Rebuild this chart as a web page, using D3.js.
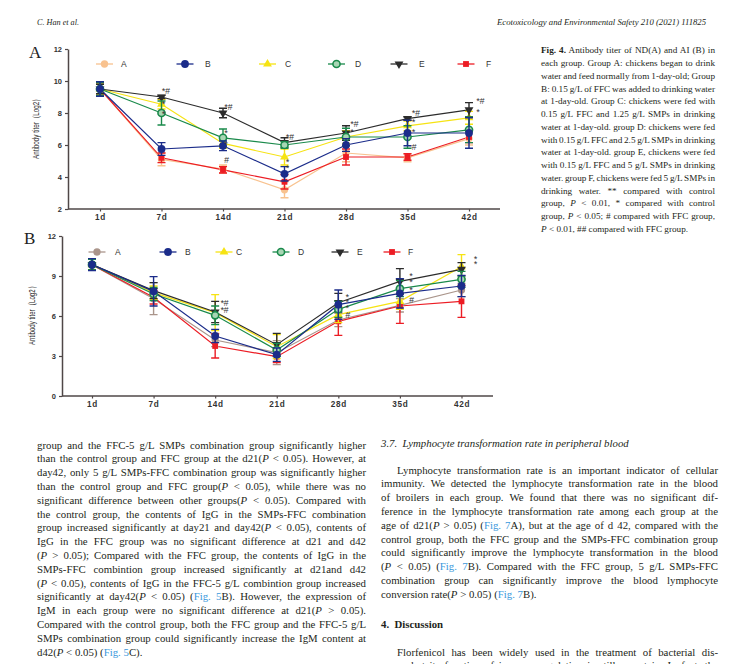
<!DOCTYPE html>
<html><head><meta charset="utf-8">
<script src="https://cdn.jsdelivr.net/npm/d3@7/dist/d3.min.js"></script>
<style>body{margin:0;background:#fff;}svg{display:block;}</style>
</head><body>
<script>
// ---------- DATA ----------
const days = ["1d","7d","14d","21d","28d","35d","42d"];
const groups = ["A","B","C","D","E","F"];

// Panel A: ND antibody titer (Log2)
const ndA = [9.5, 5.1, 4.5, 3.2, 5.5, 5.2, 6.4];
const ndB = [9.5, 5.75, 5.95, 4.2, 6.0, 6.75, 6.75];
const ndC = [9.5, 8.55, 6.1, 5.25, 6.5, 7.2, 7.7];
const ndD = [9.5, 8.0, 6.45, 6.0, 6.5, 6.5, 6.95];
const ndE = [9.5, 9.0, 8.0, 6.15, 6.75, 7.65, 8.2];
const ndF = [9.5, 5.2, 4.45, 3.7, 5.25, 5.25, 6.5];
const ndErrA = [0.4, 0.4, 0.25, 0.5, 0.55, 0.25, 0.4];
const ndErrB = [0.45, 0.4, 0.3, 0.45, 0.4, 0.8, 0.95];
const ndErrC = [0.3, 0.3, 0.3, 0.5, 0.4, 0.3, 0.4];
const ndErrD = [0.4, 0.75, 0.55, 0.2, 0.55, 0.7, 0.8];
const ndErrE = [0.3, 0.1, 0.3, 0.3, 0.45, 0.1, 0.45];
const ndErrF = [0.3, 0.3, 0.2, 0.45, 0.5, 0.2, 0.35];
const ndTicks = [2, 4, 6, 8, 10, 12];

// Panel B: AI antibody titer (Log2)
const aiA = [9.85, 7.3, 4.2, 3.25, 5.7, 6.8, 7.95];
const aiB = [9.85, 7.85, 4.5, 3.1, 6.85, 7.7, 8.25];
const aiC = [9.85, 7.75, 6.25, 3.7, 6.1, 7.1, 9.7];
const aiD = [9.85, 7.65, 6.05, 3.45, 6.5, 8.05, 8.75];
const aiE = [9.85, 7.9, 6.3, 3.85, 7.0, 8.6, 9.5];
const aiF = [9.85, 7.4, 3.75, 2.95, 5.6, 6.75, 7.1];
const aiErrA = [0.4, 1.2, 0.5, 0.9, 0.5, 0.5, 0.5];
const aiErrB = [0.45, 1.1, 0.5, 0.5, 1.1, 1.1, 0.8];
const aiErrC = [0.4, 0.5, 1.35, 0.9, 0.6, 0.6, 0.9];
const aiErrD = [0.4, 0.5, 0.7, 0.5, 0.6, 0.6, 0.6];
const aiErrE = [0.4, 0.6, 0.8, 0.85, 0.7, 0.95, 0.5];
const aiErrF = [0.4, 0.5, 0.9, 0.45, 1.05, 1.3, 1.2];
const aiTicks = [0, 3, 6, 9, 12];

// significance labels: [day, value-level, label]
const ndMarks = [["7d",9.4,"*#"],["7d",8.55,"*"],["7d",7.95,"*"],["14d",8.4,"*#"],["14d",6.75,"*"],["14d",6.1,"*"],["14d",5.05,"#"],
  ["21d",6.5,"*#"],["21d",4.95,"*"],["21d",4.6,"*"],["28d",7.35,"*#"],["28d",6.8,"*"],["35d",8.0,"*#"],["35d",7.45,"*"],["35d",6.8,"*"],["35d",5.9,"#"],
  ["42d",8.75,"*#"],["42d",8.05,"*"]];
const aiMarks = [["14d",7.0,"*#"],["14d",6.45,"*#"],["28d",7.45,"*"],["28d",7.05,"*"],["28d",6.65,"*"],["28d",6.1,"#"],
  ["35d",9.05,"*"],["35d",8.55,"*"],["35d",7.95,"*"],["35d",7.25,"#"],["42d",10.3,"*"],["42d",9.9,"*"]];

// ---------- TEXT ----------
const headerLeft = "C. Han et al.";
const headerRight = "Ecotoxicology and Environmental Safety 210 (2021) 111825";
const yTitle = "Antibody titer（Log2）";
const captionLines = [
 "[b:Fig. 4.] Antibody titer of ND(A) and AI (B) in",
 "each group. Group A: chickens began to drink",
 "water and feed normally from 1-day-old; Group",
 "B: 0.15 g/L of FFC was added to drinking water",
 "at 1-day-old. Group C: chickens were fed with",
 "0.15 g/L FFC and 1.25 g/L SMPs in drinking",
 "water at 1-day-old. group D: chickens were fed",
 "with 0.15 g/L FFC and 2.5 g/L SMPs in drinking",
 "water at 1-day-old. group E, chickens were fed",
 "with 0.15 g/L FFC and 5 g/L SMPs in drinking",
 "water. group F, chickens were fed 5 g/L SMPs in",
 "drinking water. ** compared with control",
 "group, [i:P] < 0.01, * compared with control",
 "group, [i:P] < 0.05; # compared with FFC group,",
 "[i:P] < 0.01, ## compared with FFC group."
];
const leftLines = [
 "group and the FFC-5 g/L SMPs combination group significantly higher",
 "than the control group and FFC group at the d21([i:P] < 0.05). However, at",
 "day42, only 5 g/L SMPs-FFC combination group was significantly higher",
 "than the control group and FFC group([i:P] < 0.05), while there was no",
 "significant difference between other groups([i:P] < 0.05). Compared with",
 "the control group, the contents of IgG in the SMPs-FFC combination",
 "group increased significantly at day21 and day42([i:P] < 0.05), contents of",
 "IgG in the FFC group was no significant difference at d21 and d42",
 "([i:P] > 0.05); Compared with the FFC group, the contents of IgG in the",
 "SMPs-FFC combintion group increased significantly at d21and d42",
 "([i:P] < 0.05), contents of IgG in the FFC-5 g/L combintion group increased",
 "significantly at day42([i:P] < 0.05) ([l:Fig. 5]B). However, the expression of",
 "IgM in each group were no significant difference at d21([i:P] > 0.05).",
 "Compared with the control group, both the FFC group and the FFC-5 g/L",
 "SMPs combination group could significantly increase the IgM content at",
 "d42([i:P] < 0.05) ([l:Fig. 5]C)."
];
const rightHeading = "3.7.  Lymphocyte transformation rate in peripheral blood";
const rightLines = [
 "Lymphocyte transformation rate is an important indicator of cellular",
 "immunity. We detected the lymphocyte transformation rate in the blood",
 "of broilers in each group. We found that there was no significant dif-",
 "ference in the lymphocyte transformation rate among each group at the",
 "age of d21([i:P] > 0.05) ([l:Fig. 7]A), but at the age of d 42, compared with the",
 "control group, both the FFC group and the SMPs-FFC combination group",
 "could significantly improve the lymphocyte transformation in the blood",
 "([i:P] < 0.05) ([l:Fig. 7]B). Compared with the FFC group, 5 g/L SMPs-FFC",
 "combination group can significantly improve the blood lymphocyte",
 "conversion rate([i:P] > 0.05) ([l:Fig. 7]B)."
];
const discussionHeading = "4.  Discussion";
const discussionLines = [
 "Florfenicol has been widely used in the treatment of bacterial dis-",
 "eases, but its function of immune regulation is still uncertain. In fact, the"
];

// ---------- STYLE / LAYOUT ----------
const W = 739, H = 664;
const axisColor = "#4f4747";
const colND = {A:"#f8c28f", B:"#1b2c8a", C:"#f6e313", D:"#1a8a4b", E:"#2c2c2c", F:"#ec1c24"};
const colAI = Object.assign({}, colND, {A:"#aa958b"});
const drawOrder = ["A","F","C","E","D","B"];
const sansF = "'Liberation Sans', Arial, sans-serif";
const serifF = "'Liberation Serif', 'Times New Roman', serif";
const markFont = 8.8;

const svg = d3.select("body").append("svg").attr("width", W).attr("height", H);

function symbolPath(name){
  const t = {A:d3.symbolCircle, B:d3.symbolCircle, C:d3.symbolTriangle, D:d3.symbolCircle, E:d3.symbolTriangle, F:d3.symbolSquare}[name];
  const s = {A:42, B:48, C:34, D:40, E:34, F:34}[name];
  return d3.symbol().type(t).size(s)();
}
function drawMarker(g, name, color, cx, cy){
  const p = g.append("path").attr("d", symbolPath(name))
    .attr("transform", `translate(${cx},${cy})` + (name === "E" ? " rotate(180)" : ""));
  if (name === "D") p.attr("fill", "#a8d6b4").attr("stroke", color).attr("stroke-width", 1.6);
  else p.attr("fill", color);
}

// glyph advance widths for the significance marks
const charW = {};
(function(){
  const m = svg.append("text").attr("font-family", sansF).attr("font-size", markFont).attr("font-style", "italic");
  ["*", "#"].forEach(ch => { m.text(ch); charW[ch] = m.node().getComputedTextLength(); });
  m.remove();
})();

function drawChart(cfg){
  const g = svg.append("g");
  const x = d3.scalePoint().domain(days).range(cfg.xRange);
  const y = d3.scaleLinear().domain(cfg.yDomain).range(cfg.yRange);

  // y axis
  const ya = g.append("g").attr("transform", `translate(${cfg.axisX},0)`)
    .call(d3.axisLeft(y).tickValues(cfg.ticks).tickSize(3).tickSizeOuter(0).tickPadding(3));
  ya.attr("font-family", sansF).attr("font-size", null);
  ya.select(".domain").attr("stroke", axisColor).attr("stroke-width", 1.5);
  ya.selectAll(".tick line").attr("stroke", axisColor).attr("stroke-width", 1.2);
  ya.selectAll(".tick text").attr("font-size", 7.5).attr("font-weight", "bold").attr("fill", "#333");

  // x axis
  const xa = g.append("g").attr("transform", `translate(0,${cfg.yRange[0]})`)
    .call(d3.axisBottom(x).tickSize(2.5).tickSizeOuter(0).tickPadding(2.5));
  xa.attr("font-family", sansF).attr("font-size", null);
  xa.select(".domain").remove();
  xa.selectAll(".tick line").attr("stroke", axisColor).attr("stroke-width", 1.2);
  xa.selectAll(".tick text").attr("font-size", 8.2).attr("font-weight", "bold").attr("fill", "#333").attr("letter-spacing", 0.7);
  g.append("line").attr("x1", cfg.axisX).attr("x2", cfg.xEnd)
    .attr("y1", cfg.yRange[0]).attr("y2", cfg.yRange[0])
    .attr("stroke", axisColor).attr("stroke-width", 1.5);

  // y title
  g.append("text").attr("transform", `translate(${cfg.titleX},${cfg.titleY}) rotate(-90)`)
    .attr("text-anchor", "middle").attr("font-family", "'Liberation Sans Narrow', 'Liberation Sans', Arial, sans-serif")
    .attr("font-size", 9.5).attr("fill", "#1e1e1e").attr("textLength", cfg.titleLen).attr("lengthAdjust", "spacingAndGlyphs")
    .text(yTitle);

  // panel letter
  g.append("text").attr("x", cfg.panelX).attr("y", cfg.panelY).attr("font-family", serifF)
    .attr("font-size", 17).attr("fill", "#222").text(cfg.panel);

  // lines
  drawOrder.forEach(n => {
    const s = cfg.series[n];
    const pts = days.map((d, i) => ({d, v: s.v[i], e: s.e[i]}));
    g.append("path").datum(pts)
      .attr("d", d3.line().x(p => x(p.d)).y(p => y(p.v)))
      .attr("fill", "none").attr("stroke", cfg.colors[n]).attr("stroke-width", 1.2);
  });
  // error bars + markers
  drawOrder.forEach(n => {
    const s = cfg.series[n], c = cfg.colors[n];
    days.forEach((d, i) => {
      const cx = x(d), y0 = y(s.v[i] - s.e[i]), y1 = y(s.v[i] + s.e[i]);
      g.append("path").attr("d", `M${cx},${y0}V${y1}M${cx-4},${y0}H${cx+4}M${cx-4},${y1}H${cx+4}`)
        .attr("stroke", c).attr("stroke-width", 1.4).attr("fill", "none");
      drawMarker(g, n, c, cx, y(s.v[i]));
    });
  });

  // significance labels: one text node per day, characters placed with x/y lists
  const byDay = d3.group(cfg.marks, m => m[0]);
  byDay.forEach((list, day) => {
    const chars = [], xs = [], ys = [];
    list.forEach(m => {
      let cx = x(day) + cfg.markDx[day];
      for (const ch of m[2]){ chars.push(ch); xs.push(cx.toFixed(2)); ys.push((y(m[1]) + 3.2).toFixed(2)); cx += charW[ch]; }
    });
    g.append("text").attr("font-family", sansF).attr("font-size", markFont)
      .attr("font-style", "italic").attr("fill", "#333")
      .attr("x", xs.join(" ")).attr("y", ys.join(" ")).text(chars.join(""));
  });

  // legend
  groups.forEach((n, i) => {
    const lx = cfg.legendX[i], ly = cfg.legendY, c = cfg.colors[n];
    g.append("line").attr("x1", lx - 8.5).attr("x2", lx + 8.5).attr("y1", ly).attr("y2", ly)
      .attr("stroke", c).attr("stroke-width", 1.3);
    drawMarker(g, n, c, lx, ly);
    g.append("text").attr("x", cfg.legendLabelX[i]).attr("y", ly + 3).attr("font-family", sansF)
      .attr("font-size", 8.5).attr("fill", "#333").text(n);
  });
}

drawChart({
  panel: "A", panelX: 29, panelY: 58,
  xRange: [100, 469], axisX: 68, xEnd: 500,
  yDomain: [2, 12], yRange: [209, 49], ticks: ndTicks,
  titleX: 39, titleY: 127, titleLen: 64,
  colors: colND,
  series: {A:{v:ndA,e:ndErrA}, B:{v:ndB,e:ndErrB}, C:{v:ndC,e:ndErrC}, D:{v:ndD,e:ndErrD}, E:{v:ndE,e:ndErrE}, F:{v:ndF,e:ndErrF}},
  marks: ndMarks,
  markDx: {"7d":0, "14d":1, "21d":1, "28d":4, "35d":4, "42d":7},
  legendX: [104.5, 185, 267.5, 336.5, 399, 466], legendLabelX: [121, 205, 285, 355, 419, 486], legendY: 64
});
drawChart({
  panel: "B", panelX: 24, panelY: 244,
  xRange: [92, 461.5], axisX: 62, xEnd: 493,
  yDomain: [0, 12], yRange: [396, 236], ticks: aiTicks,
  titleX: 35, titleY: 314, titleLen: 62,
  colors: colAI,
  series: {A:{v:aiA,e:aiErrA}, B:{v:aiB,e:aiErrB}, C:{v:aiC,e:aiErrC}, D:{v:aiD,e:aiErrD}, E:{v:aiE,e:aiErrE}, F:{v:aiF,e:aiErrF}},
  marks: aiMarks,
  markDx: {"14d":5, "28d":7, "35d":9, "42d":12},
  legendX: [97, 168, 224, 281, 340, 392], legendLabelX: [115, 185, 236, 298, 357, 408], legendY: 252
});

// ---------- TEXT RENDERING ----------
function parse(str){
  const out = []; const re = /\[(i|b|l):([^\]]*)\]/g; let last = 0, m;
  while ((m = re.exec(str))){ if (m.index > last) out.push({t:"", s:str.slice(last, m.index)}); out.push({t:m[1], s:m[2]}); last = re.lastIndex; }
  if (last < str.length) out.push({t:"", s:str.slice(last)});
  return out;
}
function textLine(x, y, width, str, o){
  const t = svg.append("text").attr("x", x).attr("y", y).attr("font-family", o.font || serifF)
    .attr("font-size", o.size).attr("fill", "#231f20").attr("xml:space", "preserve");
  if (o.italic) t.attr("font-style", "italic");
  if (o.bold) t.attr("font-weight", "bold");
  const segs = parse(str);
  segs.forEach(sg => {
    const ts = t.append("tspan").text(sg.s);
    if (sg.t === "i") ts.attr("font-style", "italic");
    if (sg.t === "b") ts.attr("font-weight", "bold");
    if (sg.t === "l") ts.attr("fill", "#3a98dc");
  });
  if (o.justify){
    const nat = t.node().getComputedTextLength();
    const plain = segs.map(s => s.s).join("");
    const sp = (plain.match(/ /g) || []).length;
    if (sp > 0){
      const ws = (width - nat) / sp;
      if (ws > -0.8) t.style("word-spacing", ws + "px");
      else t.attr("textLength", width).attr("lengthAdjust", "spacingAndGlyphs");
    }
  } else if (o.fit){
    t.attr("textLength", width).attr("lengthAdjust", "spacingAndGlyphs");
  }
  return t;
}

// header
textLine(37, 25, 42, headerLeft, {size: 8.5, italic: true, fit: true});
textLine(497, 25, 209, headerRight, {size: 8.5, italic: true, fit: true});

// caption
captionLines.forEach((l, i) => {
  textLine(541, 50 + i * 12.75 + 3.3, 174, l, {size: 9.2, justify: i < captionLines.length - 1});
});

// left column
leftLines.forEach((l, i) => {
  textLine(37, 445 + i * 13.8 + 3.5, 329, l, {size: 10.8, justify: i < leftLines.length - 1});
});

// right column
textLine(381, 443 + 3.5, 259, rightHeading, {size: 10.8, italic: true});
rightLines.forEach((l, i) => {
  const x0 = i === 0 ? 397 : 381;
  textLine(x0, 470 + i * 13.8 + 3.5, 718 - x0, l, {size: 10.8, justify: i < rightLines.length - 1});
});
textLine(381, 624 + 3.5, 70, discussionHeading, {size: 10.8, bold: true});
discussionLines.forEach((l, i) => {
  const x0 = i === 0 ? 397 : 381;
  textLine(x0, 652 + i * 13.8 + 3.5, 718 - x0, l, {size: 10.8, justify: true});
});
</script>
</body></html>
